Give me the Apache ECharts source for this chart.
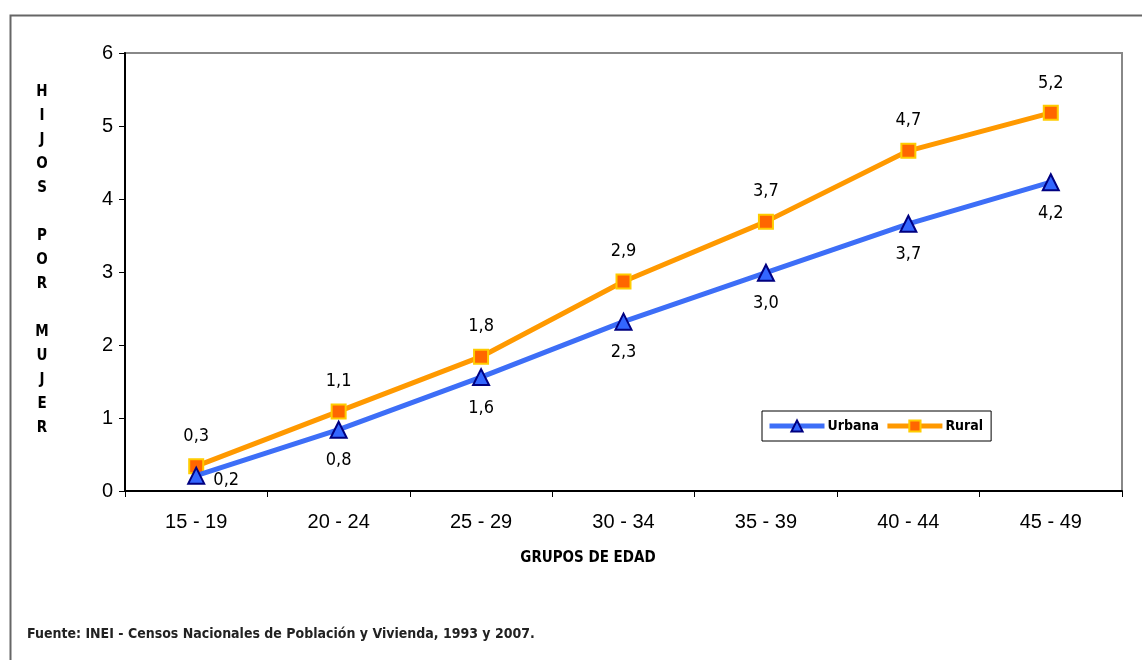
<!DOCTYPE html>
<html>
<head>
<meta charset="utf-8">
<script src="https://cdn.jsdelivr.net/npm/echarts@6/dist/echarts.min.js"></script>
<style>
html, body { margin: 0; padding: 0; background: #fff; }
#chart { width: 1142px; height: 660px; }
</style>
</head>
<body>
<div id="chart"></div>
<script>
// grupos de edad
const categories = ['15 - 19', '20 - 24', '25 - 29', '30 - 34', '35 - 39', '40 - 44', '45 - 49'];
// hijos por mujer
const urbana = [0.21, 0.84, 1.56, 2.32, 2.99, 3.66, 4.23];
const rural = [0.34, 1.09, 1.84, 2.87, 3.69, 4.66, 5.18];
const yTicks = [0, 1, 2, 3, 4, 5, 6];

const narrow = '"Liberation Sans Narrow", "DejaVu Sans Condensed", sans-serif';
const arial = '"Liberation Sans", Arial, sans-serif';
const coma = p => p.value.toFixed(1).replace('.', ',');

let chart = echarts.init(document.getElementById('chart'));
let option = {
  animation: false,
  grid: {
    left: 125, right: 20, top: 53, bottom: 169,
    show: true,
    borderColor: '#888',
    borderWidth: 2
  },
  graphic: [
    // marco exterior
    { type: 'rect', left: 8, top: 13, shape: { width: 1200, height: 700 },
      style: { fill: 'none', stroke: '#666', lineWidth: 2 }, silent: true },
    { type: 'text', x: 42, y: 80,
      style: { text: 'H\nI\nJ\nO\nS\n\nP\nO\nR\n\nM\nU\nJ\nE\nR', align: 'center',
        lineHeight: 24, font: 'bold 15px ' + narrow, fill: '#000' } },
    { type: 'text', x: 588, y: 551,
      style: { text: 'GRUPOS DE EDAD', align: 'center', font: 'bold 15px ' + narrow, fill: '#000' } },
    { type: 'text', x: 27, y: 627,
      style: { text: 'Fuente: INEI - Censos Nacionales de Población y Vivienda, 1993 y 2007.',
        font: 'bold 14px ' + narrow, fill: '#222' } }
  ],
  legend: {
    left: 762, top: 411,
    padding: [8, 8, 8, 5],
    borderColor: '#000', borderWidth: 1,
    itemWidth: 55, itemHeight: 14, itemGap: 6,
    lineStyle: { width: 5 },
    textStyle: { fontFamily: narrow, fontWeight: 'bold', fontSize: 14, color: '#000', padding: [0, 0, 0, -2] },
    data: ['Urbana', 'Rural']
  },
  xAxis: {
    type: 'category',
    data: categories,
    boundaryGap: true,
    axisLine: { lineStyle: { color: '#000', width: 2 } },
    axisTick: { show: true, length: 6, lineStyle: { color: '#000' } },
    axisLabel: { color: '#000', fontFamily: arial, fontSize: 20, margin: 21 },
    splitLine: { show: false }
  },
  yAxis: {
    type: 'value',
    min: 0, max: yTicks[yTicks.length - 1], interval: 1,
    axisLine: { show: true, lineStyle: { color: '#000', width: 2 } },
    axisTick: { show: true, length: 6, lineStyle: { color: '#000' } },
    axisLabel: { color: '#000', fontFamily: arial, fontSize: 20, margin: 12 },
    splitLine: { show: false }
  },
  series: [
    {
      name: 'Urbana', type: 'line', data: urbana,
      symbol: 'triangle', symbolSize: 16,
      lineStyle: { color: '#3d6ef7', width: 5 },
      itemStyle: { color: '#3366ff', borderColor: '#000080', borderWidth: 2 },
      label: { show: true, position: 'bottom', distance: 13, formatter: coma,
        fontFamily: narrow, fontSize: 18, color: '#000' },
      labelLayout: p => p.dataIndex === 0 ? { dx: 30, dy: -26 } : {},
      z: 3
    },
    {
      name: 'Rural', type: 'line', data: rural,
      symbol: 'rect', symbolSize: 14,
      lineStyle: { color: '#ff9900', width: 5 },
      itemStyle: { color: '#ff6600', borderColor: '#ffcc00', borderWidth: 2 },
      label: { show: true, position: 'top', distance: 13, formatter: coma,
        fontFamily: narrow, fontSize: 18, color: '#000' },
      z: 2
    }
  ]
};
chart.setOption(option);
</script>
</body>
</html>
